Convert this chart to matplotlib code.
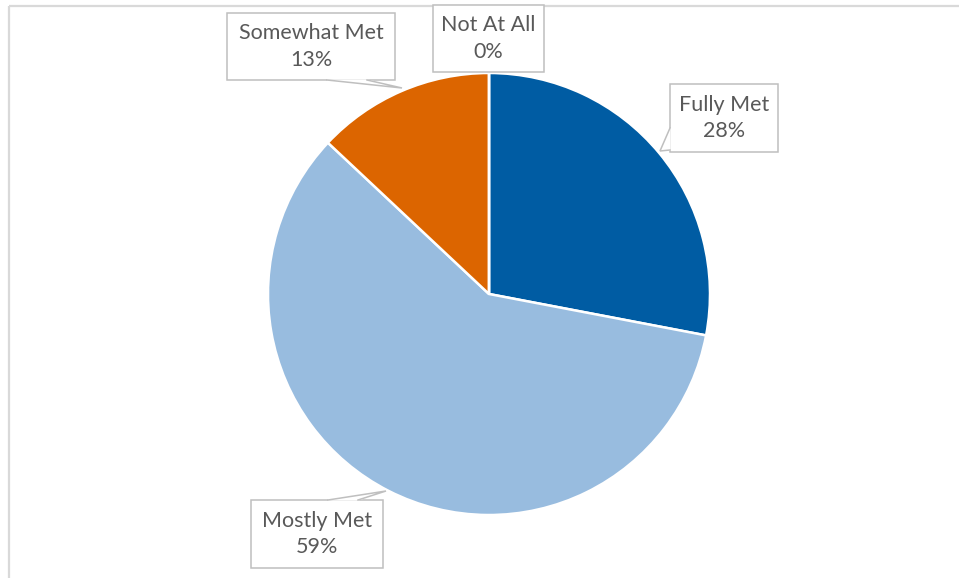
import matplotlib
matplotlib.use("Agg")
import matplotlib.pyplot as plt
from matplotlib.patches import Rectangle

W, H = 959, 578

# data
categories = ['Fully Met', 'Mostly Met', 'Somewhat Met', 'Not At All']
shares = [28, 59, 13, 0]
colors = ['#005ca3', '#98bcdf', '#dc6500', '#a5a5a5']

# label boxes (pixel, y down): x0, y0, x1, y1, tail base a, tail base b, tip
boxes = {
    'Fully Met':    ((670, 84, 778, 152), (670, 128), (670, 150), (660, 151)),
    'Mostly Met':   ((251, 500, 383, 568), (328, 500), (358, 500), (386, 491)),
    'Somewhat Met': ((227, 13, 395, 80), (327, 80), (367, 80), (402, 88)),
    'Not At All':   ((433, 5, 544, 72), None, None, None),
}

def Y(y):
    return H - y

fig = plt.figure(figsize=(W / 100, H / 100), dpi=100)
ax = fig.add_axes([0, 0, 1, 1])

# outer frame (only top and left edges visible)
ax.plot([8.5, 8.5], [0, Y(5.5)], color='#d9d9d9', lw=1.6, solid_capstyle='butt')
ax.plot([8.5, W], [Y(5.5), Y(5.5)], color='#d9d9d9', lw=1.6, solid_capstyle='butt')

ax.pie(shares, colors=colors, startangle=90, counterclock=False,
       center=(489, Y(294)), radius=221, frame=True,
       wedgeprops=dict(edgecolor='white', linewidth=1.8))
ax.set_xlim(0, W)
ax.set_ylim(0, H)
ax.set_aspect('equal')
ax.axis('off')

edge = '#bfbfbf'
for name, val in zip(categories, shares):
    (x0, y0, x1, y1), a, b, tip = boxes[name]
    ax.add_patch(Rectangle((x0, Y(y1)), x1 - x0, y1 - y0, facecolor='white',
                           edgecolor=edge, linewidth=1.1, zorder=5))
    if tip is not None:
        ax.fill([a[0], tip[0], b[0]], [Y(a[1]), Y(tip[1]), Y(b[1])],
                color='white', zorder=6)
        ax.plot([a[0], tip[0], b[0]], [Y(a[1]), Y(tip[1]), Y(b[1])],
                color=edge, lw=1.1, zorder=7, solid_joinstyle='miter')
    ax.text((x0 + x1) / 2, Y((y0 + y1) / 2), '%s\n%d%%' % (name, val),
            ha='center', va='center', fontsize=15.5, family='Lato',
            color='#595959', linespacing=1.38, zorder=8)

fig.savefig('out.png', dpi=100, facecolor='white')
